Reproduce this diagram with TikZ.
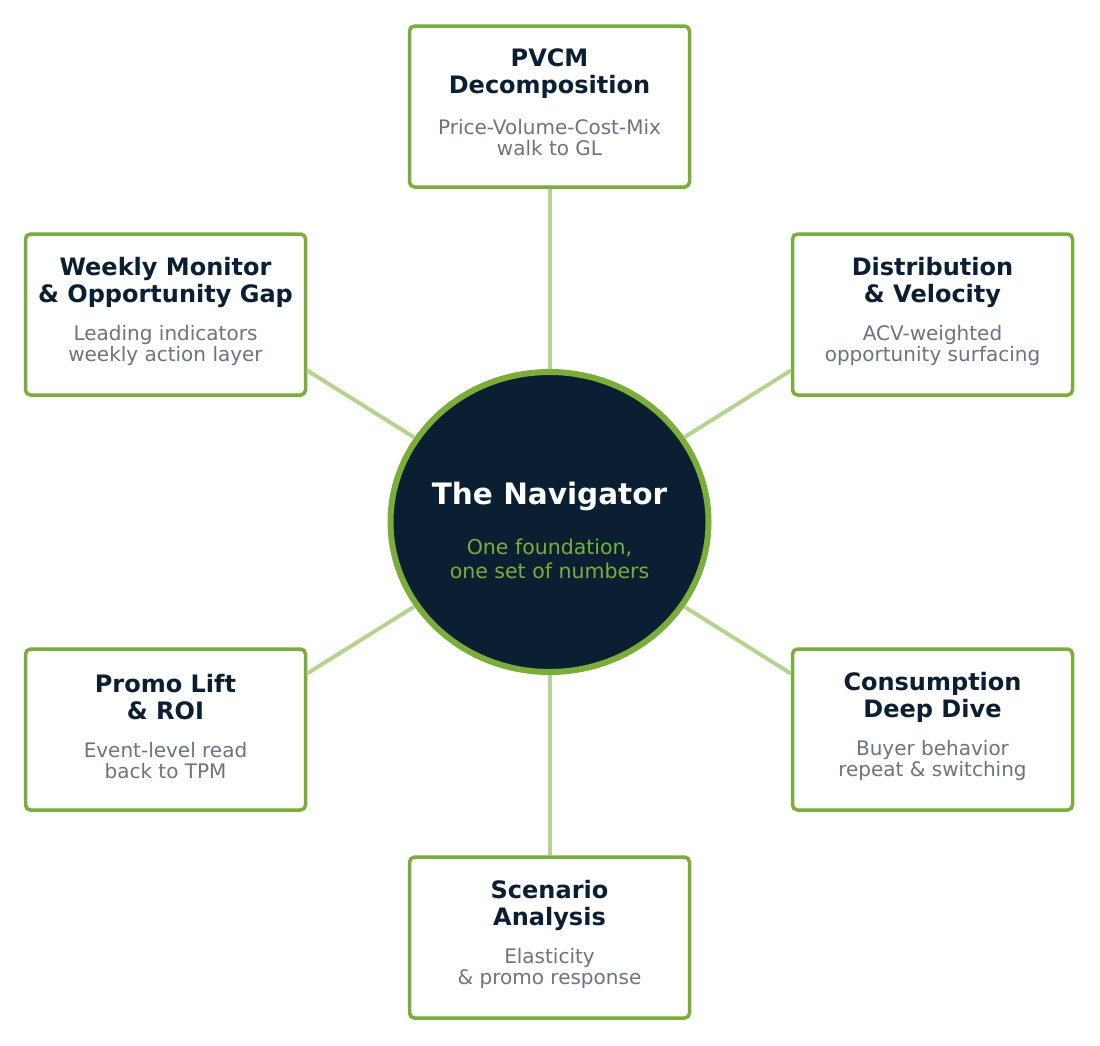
\documentclass[tikz,border=0pt]{standalone}
\usepackage{fontspec}
\setmainfont{DejaVu Sans}
\usetikzlibrary{shapes.geometric}
\definecolor{grn}{HTML}{7AAD3A}
\definecolor{lgrn}{HTML}{B5D491}
\definecolor{navy}{HTML}{0B1F33}
\definecolor{gtx}{HTML}{6B7480}
\begin{document}
\begin{tikzpicture}[x=1pt,y=-1pt,
  box/.style={draw=grn,line width=3.5pt,rounded corners=5pt,fill=white,minimum width=280pt,minimum height=161pt,inner sep=0pt},
  ttl/.style={align=center,text=navy,font=\fontsize{24}{27}\selectfont\bfseries,inner sep=0pt},
  sub/.style={align=center,text=gtx,font=\fontsize{20}{21}\selectfont,inner sep=0pt},
  link/.style={draw=lgrn,line width=4pt}]
\useasboundingbox (0,0) rectangle (1100,1045);
\node[ellipse,draw=grn,fill=navy,line width=6pt,minimum width=318pt,minimum height=300pt,inner sep=0pt] (c) at (549.5,522) {};
\node[ttl,text=white,font=\fontsize{29.5}{34}\selectfont\bfseries] (ct) at (549.5,496) {The Navigator};
\node[sub,text=grn,font=\fontsize{20.5}{24}\selectfont] (cs) at (549.5,559) {One foundation,\\one set of numbers};
\foreach \n/\x/\y/\a/\b in {
 t/549.5/106.5/{PVCM\\Decomposition}/{Price-Volume-Cost-Mix\\walk to GL},
 ul/165.5/314.5/{Weekly Monitor\\\& Opportunity Gap}/{Leading indicators\\weekly action layer},
 ur/932.5/314.5/{Distribution\\\& Velocity}/{ACV-weighted\\opportunity surfacing},
 ll/165.5/729.5/{Promo Lift\\\& ROI}/{Event-level read\\back to TPM},
 lr/932.5/729.5/{Consumption\\Deep Dive}/{Buyer behavior\\repeat \& switching},
 b/549.5/937.5/{Scenario\\Analysis}/{Elasticity\\\& promo response}} {
 \node[box] (\n) at (\x,\y) {};
 \node[ttl] (\n t) at (\x,\y-32.5) {\a};
 \node[sub] (\n s) at (\x,\y+31) {\b};
}
\draw[link] (c) -- (t);
\draw[link] (c) -- (b);
\draw[link] (c) -- ([yshift=-56pt]ul.east);
\draw[link] (c) -- ([yshift=-56pt]ur.west);
\draw[link] (c) -- ([yshift=56pt]ll.east);
\draw[link] (c) -- ([yshift=56pt]lr.west);
\end{tikzpicture}
\end{document}
